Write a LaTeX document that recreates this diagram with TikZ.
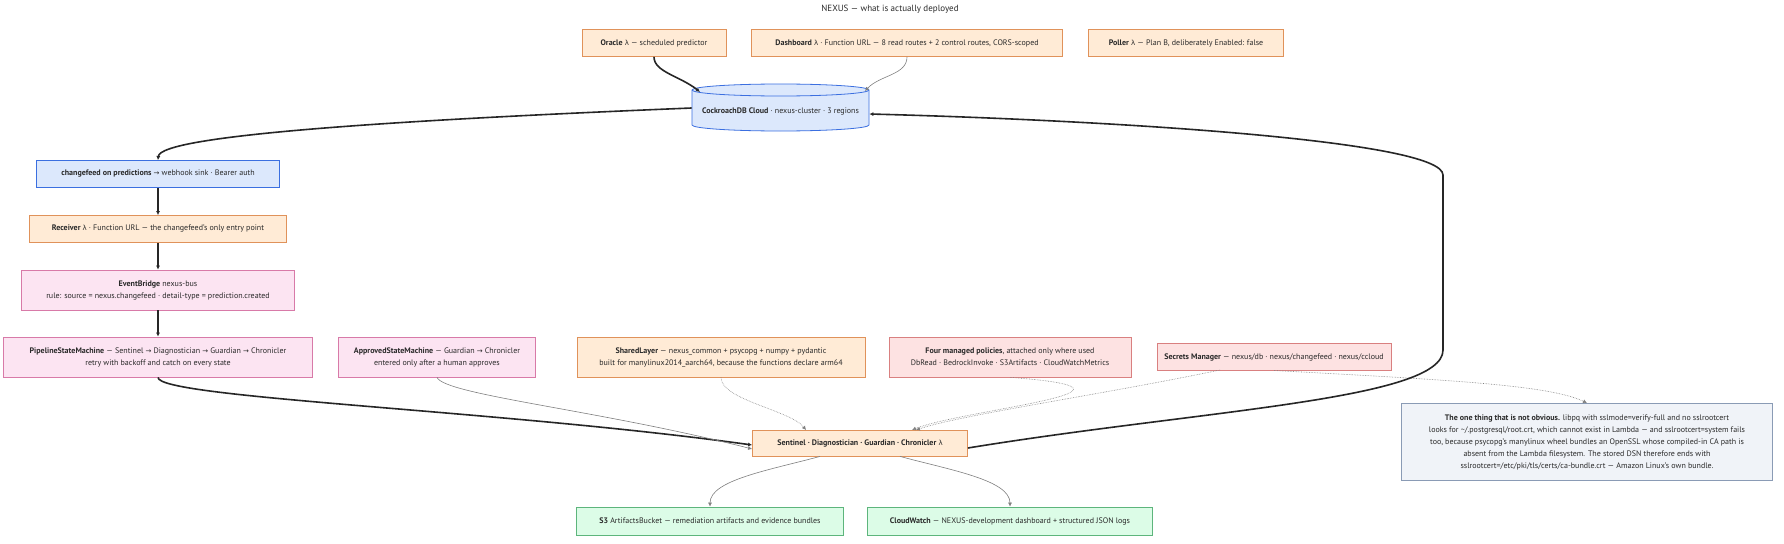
\documentclass[tikz,border=0pt]{standalone}
\usepackage{fontspec}
\setmainfont{PT Sans}
\newfontfamily\symf{DejaVu Sans}
\newcommand{\lam}{{\symf\fontsize{7}{12}\selectfont λ}}
\newcommand{\rar}{{\symf\fontsize{7}{12}\selectfont →}}
\usetikzlibrary{arrows.meta}
\definecolor{ofill}{HTML}{FFEBD6}\definecolor{odraw}{HTML}{E0925A}
\definecolor{bfill}{HTML}{DCE8FC}\definecolor{bdraw}{HTML}{3B6FE0}
\definecolor{pfill}{HTML}{FCE4F2}\definecolor{pdraw}{HTML}{D87AA8}
\definecolor{rfill}{HTML}{FDE2E2}\definecolor{rdraw}{HTML}{D98080}
\definecolor{gfill}{HTML}{DCFCE7}\definecolor{gdraw}{HTML}{5DB57C}
\definecolor{nfill}{HTML}{F0F3F8}\definecolor{ndraw}{HTML}{8A9BB5}
\definecolor{txt}{HTML}{2A2A2A}
\begin{document}
\begin{tikzpicture}[x=1pt,y=-1pt,
  box/.style={draw,line width=0.8pt,inner sep=0pt,align=center,font=\fontsize{8}{12}\selectfont,text=txt},
  org/.style={box,fill=ofill,draw=odraw},
  blu/.style={box,fill=bfill,draw=bdraw},
  pnk/.style={box,fill=pfill,draw=pdraw},
  red/.style={box,fill=rfill,draw=rdraw},
  grn/.style={box,fill=gfill,draw=gdraw},
  nte/.style={box,fill=nfill,draw=ndraw},
  thick/.style={line width=1.6pt,draw=black!85,-{Latex[length=4pt,width=4pt]}},
  thin/.style={line width=0.6pt,draw=gray,-{Latex[length=4pt,width=4pt]}},
  dot/.style={line width=0.6pt,draw=gray,densely dotted,-{Latex[length=4pt,width=4pt]}}]
\useasboundingbox (0,0) rectangle (1784,543);
\fill[white] (0,0) rectangle (1784,543);
\node[font=\fontsize{9}{11}\selectfont,text=txt] (title) at (890,9) {NEXUS — what is actually deployed};
\node[org,minimum width=144pt,minimum height=27pt] (oracle) at (654,43) {\textbf{Oracle} \lam\ — scheduled predictor};
\node[org,minimum width=311pt,minimum height=27pt] (dash) at (907,43) {\textbf{Dashboard} \lam\ · Function URL — 8 read routes + 2 control routes, CORS-scoped};
\node[org,minimum width=195pt,minimum height=27pt] (poller) at (1186,43) {\textbf{Poller} \lam\ — Plan B, deliberately Enabled: false};
% cylinder
\draw[line width=0.8pt,draw=bdraw,fill=bfill] (692,90) -- (692,125) arc[x radius=88.5,y radius=6,start angle=180,end angle=0] -- (869,90) arc[x radius=88.5,y radius=6,start angle=0,end angle=-180] -- cycle;
\draw[line width=0.8pt,draw=bdraw] (692,90) arc[x radius=88.5,y radius=6,start angle=180,end angle=0];
\node[box,draw=none,minimum width=177pt,minimum height=28pt] (cdb) at (780.5,111) {\textbf{CockroachDB Cloud} · nexus-cluster · 3 regions};
\node[blu,minimum width=243pt,minimum height=27pt] (cf) at (158,174) {\textbf{changefeed on predictions} \rar\ webhook sink · Bearer auth};
\node[org,minimum width=257pt,minimum height=27pt] (recv) at (158,229) {\textbf{Receiver} \lam\ · Function URL — the changefeed's only entry point};
\node[pnk,minimum width=273pt,minimum height=40pt] (eb) at (158,290) {\textbf{EventBridge} nexus-bus\\rule: source = nexus.changefeed · detail-type = prediction.created};
\node[pnk,minimum width=309pt,minimum height=40pt] (pipe) at (158,357) {\textbf{PipelineStateMachine} — Sentinel \rar\ Diagnostician \rar\ Guardian \rar\ Chronicler\\retry with backoff and catch on every state};
\node[pnk,minimum width=197pt,minimum height=40pt] (appr) at (437,357) {\textbf{ApprovedStateMachine} — Guardian \rar\ Chronicler\\entered only after a human approves};
\node[org,minimum width=288pt,minimum height=40pt] (shared) at (721,357) {\textbf{SharedLayer} — nexus\_common + psycopg + numpy + pydantic\\built for manylinux2014\_aarch64, because the functions declare arm64};
\node[red,minimum width=242pt,minimum height=40pt] (pol) at (1010,357) {\textbf{Four managed policies}, attached only where used\\DbRead · BedrockInvoke · S3Artifacts · CloudWatchMetrics};
\node[red,minimum width=234pt,minimum height=27pt] (sec) at (1274,357) {\textbf{Secrets Manager} — nexus/db · nexus/changefeed · nexus/ccloud};
\node[nte,minimum width=371pt,minimum height=77pt] (note) at (1587,442) {\textbf{The one thing that is not obvious.} libpq with sslmode=verify-full and no sslrootcert\\looks for \textasciitilde/.postgresql/root.crt, which cannot exist in Lambda — and sslrootcert=system fails\\too, because psycopg's manylinux wheel bundles an OpenSSL whose compiled-in CA path is\\absent from the Lambda filesystem. The stored DSN therefore ends with\\sslrootcert=/etc/pki/tls/certs/ca-bundle.crt — Amazon Linux's own bundle.};
\node[org,minimum width=215pt,minimum height=26pt] (sent) at (860,443) {\textbf{Sentinel · Diagnostician · Guardian · Chronicler} \lam};
\node[grn,minimum width=267pt,minimum height=28pt] (s3) at (710,521) {\textbf{S3} ArtifactsBucket — remediation artifacts and evidence bundles};
\node[grn,minimum width=285pt,minimum height=28pt] (cw) at (1010,521) {\textbf{CloudWatch} — NEXUS-development dashboard + structured JSON logs};
% edges
\draw[thick] (oracle.south) .. controls (654,72) and (680,76) .. (700,92);
\draw[thin] (dash.south) .. controls (907,75) and (880,75) .. (865,91);
\draw[thick] ([yshift=3pt]cdb.west) .. controls (400,120) and (160,135) .. (cf.north);
\draw[thick] (cf) -- (recv);
\draw[thick] (recv) -- (eb);
\draw[thick] (eb) -- (pipe);
\draw[thick] (pipe.south) .. controls (158,398) and (500,410) .. ([yshift=-2pt]sent.west);
\draw[thin] (appr.south) .. controls (445,395) and (600,410) .. ([yshift=-6pt]sent.west);
\draw[dot] (shared.south) .. controls (721,400) and (790,410) .. (806,430);
\draw[dot] (pol.south) .. controls (1180,390) and (960,410) .. (912,430);
\draw[dot] (1220,370) .. controls (1100,395) and (960,415) .. (916,430);
\draw[dot] (1274,370.5) .. controls (1450,380) and (1550,385) .. (note.north);
\draw[thick] ([yshift=-5pt]sent.east) .. controls (1200,410) and (1443,400) .. (1443,350) -- (1443,175) .. controls (1443,140) and (1100,120) .. ([yshift=-3pt]cdb.east);
\draw[thin] ([xshift=-40pt]sent.south) .. controls (770,470) and (710,480) .. (s3.north);
\draw[thin] ([xshift=40pt]sent.south) .. controls (950,470) and (1010,480) .. (cw.north);
\end{tikzpicture}
\end{document}
